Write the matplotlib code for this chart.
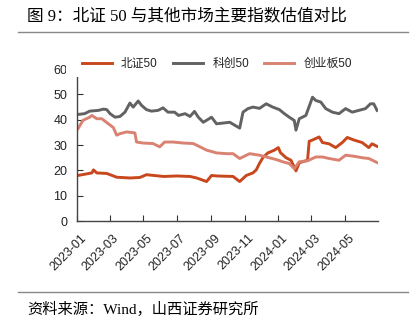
import matplotlib
matplotlib.use("Agg")
import matplotlib.pyplot as plt
import matplotlib.transforms as mtransforms
from matplotlib.patches import Rectangle
import pandas as pd

plt.rcParams['font.family'] = ['Liberation Sans', 'Noto Sans CJK SC', 'DejaVu Sans']

title = "图 9：北证 50 与其他市场主要指数估值对比"
source = "资料来源：Wind，山西证券研究所"
series_names = ["北证50", "科创50", "创业板50"]

bz_dates = ["2023-01-03", "2023-01-28", "2023-01-31", "2023-02-06", "2023-02-24", "2023-03-14",
            "2023-04-07", "2023-04-25", "2023-05-07", "2023-06-07", "2023-07-01", "2023-07-25",
            "2023-08-06", "2023-08-24", "2023-09-02", "2023-09-11", "2023-10-11", "2023-10-23",
            "2023-11-04", "2023-11-16", "2023-11-22", "2023-11-28", "2023-12-04", "2023-12-13",
            "2023-12-25", "2024-01-01", "2024-01-05", "2024-01-15", "2024-01-24", "2024-02-02",
            "2024-02-08", "2024-02-23", "2024-02-26", "2024-03-03", "2024-03-15", "2024-03-21",
            "2024-04-02", "2024-04-14", "2024-04-26", "2024-05-05", "2024-05-17", "2024-06-01",
            "2024-06-13", "2024-06-19", "2024-06-28"]
bz_vals = [18.0, 19.0, 20.2, 19.0, 18.8, 17.3,
           17.0, 17.2, 18.3, 17.6, 17.8, 17.6,
           17.0, 15.6, 18.0, 17.8, 17.6, 15.6,
           18.0, 19.0, 20.2, 22.8, 25.0, 26.9,
           28.0, 29.0, 27.0, 25.0, 24.0, 19.8,
           23.0, 24.0, 31.5, 32.0, 33.2, 31.0,
           30.5, 29.0, 31.0, 33.0, 32.0, 31.0,
           29.0, 30.5, 29.5]

kc_dates = ["2023-01-03", "2023-01-15", "2023-01-24", "2023-02-09", "2023-02-18", "2023-02-24",
            "2023-03-02", "2023-03-11", "2023-03-20", "2023-03-29", "2023-04-07", "2023-04-13",
            "2023-04-22", "2023-04-28", "2023-05-07", "2023-05-16", "2023-05-28", "2023-06-06",
            "2023-06-15", "2023-06-27", "2023-07-04", "2023-07-16", "2023-07-25", "2023-08-02",
            "2023-08-09", "2023-08-18", "2023-08-24", "2023-09-02", "2023-09-11", "2023-10-05",
            "2023-10-23", "2023-10-29", "2023-11-07", "2023-11-16", "2023-11-28", "2023-12-10",
            "2023-12-22", "2024-01-03", "2024-01-12", "2024-01-21", "2024-01-30", "2024-02-02",
            "2024-02-08", "2024-02-20", "2024-03-03", "2024-03-09", "2024-03-18", "2024-03-27",
            "2024-04-08", "2024-04-20", "2024-05-02", "2024-05-14", "2024-05-26", "2024-06-07",
            "2024-06-16", "2024-06-22", "2024-06-28"]
kc_vals = [42.1, 42.4, 43.4, 43.7, 44.2, 44.0,
           42.4, 41.0, 41.3, 43.0, 46.6, 45.0,
           47.4, 45.7, 44.0, 43.4, 43.7, 44.7,
           43.0, 43.0, 41.7, 42.4, 41.3, 43.3,
           41.0, 39.0, 39.8, 41.0, 38.4, 39.0,
           36.7, 43.0, 44.4, 45.0, 44.5, 46.3,
           45.0, 44.0, 42.4, 41.0, 39.7, 35.9,
           40.4, 41.7, 48.9, 47.6, 47.0, 44.4,
           43.0, 42.4, 44.4, 43.0, 43.7, 44.4,
           46.3, 46.3, 43.7]

cy_dates = ["2023-01-03", "2023-01-12", "2023-01-24", "2023-01-28", "2023-02-06", "2023-02-15",
            "2023-02-27", "2023-03-08", "2023-03-14", "2023-03-20", "2023-04-01", "2023-04-16",
            "2023-04-19", "2023-05-01", "2023-05-19", "2023-05-31", "2023-06-09", "2023-06-24",
            "2023-07-13", "2023-07-31", "2023-08-12", "2023-08-24", "2023-09-11", "2023-09-29",
            "2023-10-11", "2023-10-23", "2023-11-10", "2023-11-28", "2023-12-10", "2023-12-28",
            "2024-01-09", "2024-01-21", "2024-01-30", "2024-02-08", "2024-02-23", "2024-03-09",
            "2024-03-21", "2024-04-02", "2024-04-20", "2024-05-02", "2024-05-17", "2024-06-01",
            "2024-06-13", "2024-06-28"]
cy_vals = [36.5, 39.8, 41.0, 41.7, 40.4, 40.4,
           38.4, 36.9, 33.9, 34.5, 35.2, 34.8,
           31.2, 30.8, 30.6, 29.3, 31.2, 31.2,
           30.8, 30.6, 29.3, 28.0, 26.9, 26.6,
           26.6, 24.7, 26.6, 26.0, 25.3, 24.3,
           23.4, 22.7, 20.7, 23.4, 23.8, 25.3,
           25.3, 24.7, 24.0, 26.0, 25.6, 25.0,
           24.7, 23.1]

colors = ["#C8471D", "#626262", "#DA8271"]
xtick_labels = ["2023-01", "2023-03", "2023-05", "2023-07", "2023-09", "2023-11",
                "2024-01", "2024-03", "2024-05"]
yticks = [0, 10, 20, 30, 40, 50, 60]

W, H = 416, 326
fig = plt.figure(figsize=(W / 100, H / 100), dpi=100)
ax = fig.add_axes([0.185, 0.322, 0.724, 0.466])

for d, v, c, n in [(bz_dates, bz_vals, colors[0], series_names[0]),
                   (kc_dates, kc_vals, colors[1], series_names[1]),
                   (cy_dates, cy_vals, colors[2], series_names[2])]:
    ax.plot(pd.to_datetime(d), v, color=c, lw=2.1, label=n, solid_joinstyle='round')

ax.set_ylim(0, 60)
ax.set_yticks(yticks)
ax.set_xlim(pd.Timestamp("2023-01-01"), pd.Timestamp("2024-06-30"))
ax.set_xticks(pd.to_datetime([s + "-01" for s in xtick_labels]))
ax.set_xticklabels(xtick_labels, rotation=45, ha='right', rotation_mode='anchor')
ax.tick_params(axis='both', direction='in', length=4, width=0.8, colors='#333333',
               labelsize=9, labelcolor='#222222')
ax.tick_params(axis='x', pad=8)
ax.tick_params(axis='y', pad=7)
offset = mtransforms.ScaledTranslation(3 / 100, 0, fig.dpi_scale_trans)
for lab in ax.get_xticklabels():
    lab.set_transform(lab.get_transform() + offset)
for s in ['top', 'right']:
    ax.spines[s].set_visible(False)
for s in ['left', 'bottom']:
    ax.spines[s].set_color('#444444')
    ax.spines[s].set_linewidth(1.0)

# white legend band (covers top of the axis as in the original)
fig.add_artist(Rectangle((65.5 / W, 1 - 77 / H), (362 - 65.5) / W, 26 / H,
                         transform=fig.transFigure, facecolor='white',
                         edgecolor='none', zorder=4))
leg = fig.legend(loc='center left', bbox_to_anchor=(82 / W, 1 - 64 / H), ncol=3,
                 frameon=False, fontsize=8.5,
                 handlelength=2.55, handletextpad=0.76, columnspacing=1.3,
                 borderpad=0, borderaxespad=0)
leg.set_zorder(5)
for t in leg.get_texts():
    t.set_color('#222222')

mixed = ['Liberation Serif', 'Noto Sans CJK SC']
fig.text(27 / W, 0.95, title, fontsize=12, family=mixed, va='center', ha='left')
fig.add_artist(plt.Line2D([18 / W, 408 / W], [1 - 32 / H, 1 - 32 / H], color='#888888', lw=1.0))
fig.add_artist(plt.Line2D([18 / W, 408 / W], [1 - 292 / H, 1 - 292 / H], color='#888888', lw=1.0))
fig.text(27 / W, 1 - 309 / H, source, fontsize=11, family=mixed, va='center', ha='left')

fig.savefig("out.png", dpi=100)
